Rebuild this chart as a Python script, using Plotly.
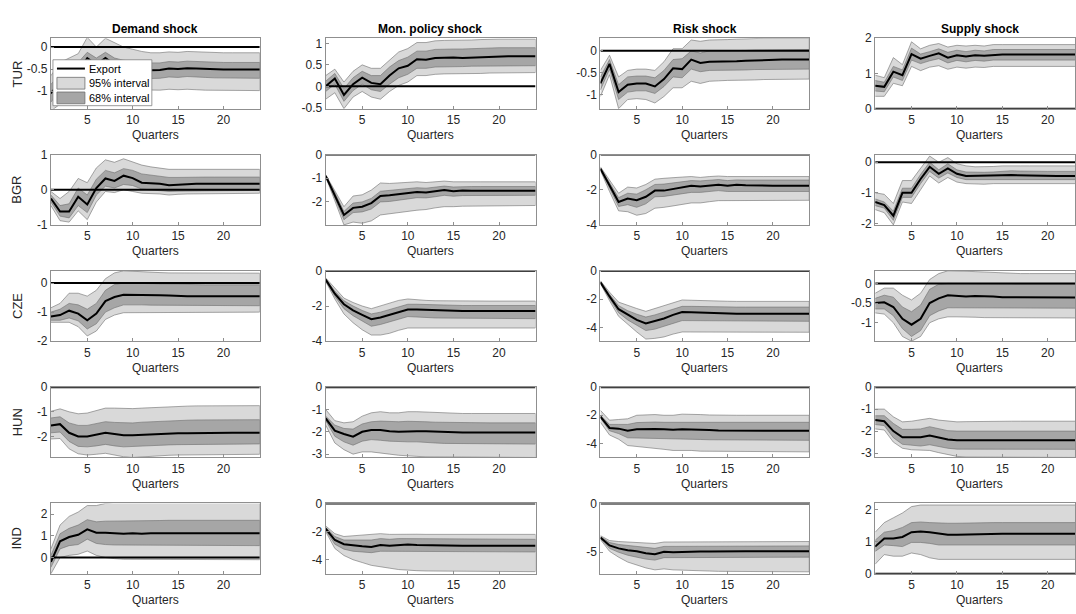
import plotly.graph_objects as go

# ---------------- data ----------------
QUARTERS = list(range(1, 25))
COUNTRIES = ["TUR", "BGR", "CZE", "HUN", "IND"]
SHOCKS = ["Demand shock", "Mon. policy shock", "Risk shock", "Supply shock"]
X_TICKS = [5, 10, 15, 20]

# TUR
TUR_DEM_MED = [-1.05,-0.80,-0.65,-0.55,-0.25,-0.40,-0.25,-0.40,-0.48,-0.50,-0.52,-0.53,-0.52,-0.49,-0.50,-0.48,-0.49,-0.50,-0.51,-0.51,-0.51,-0.51,-0.51,-0.51]
TUR_DEM_H68 = [-0.85,-0.60,-0.45,-0.35,-0.12,-0.25,-0.12,-0.25,-0.30,-0.33,-0.35,-0.36,-0.36,-0.33,-0.34,-0.32,-0.33,-0.34,-0.35,-0.35,-0.35,-0.35,-0.35,-0.35]
TUR_DEM_L68 = [-1.25,-1.00,-0.85,-0.75,-0.45,-0.60,-0.45,-0.60,-0.68,-0.70,-0.72,-0.72,-0.71,-0.68,-0.69,-0.67,-0.68,-0.69,-0.70,-0.70,-0.70,-0.70,-0.71,-0.71]
TUR_DEM_H95 = [-0.65,-0.35,-0.25,-0.15,0.22,0.00,0.20,0.10,0.00,-0.05,-0.10,-0.13,-0.13,-0.11,-0.12,-0.10,-0.11,-0.12,-0.13,-0.13,-0.13,-0.13,-0.13,-0.13]
TUR_DEM_L95 = [-1.45,-1.30,-1.15,-1.05,-0.80,-0.90,-0.80,-0.90,-0.95,-0.97,-0.98,-0.98,-0.98,-0.96,-0.97,-0.96,-0.97,-0.98,-0.99,-0.99,-0.99,-0.99,-0.99,-0.99]

TUR_MON_MED = [0.00,0.18,-0.20,0.05,0.20,0.08,0.05,0.25,0.42,0.48,0.63,0.62,0.66,0.67,0.67,0.66,0.67,0.68,0.69,0.70,0.70,0.70,0.70,0.70]
TUR_MON_H68 = [0.12,0.30,-0.05,0.20,0.35,0.25,0.25,0.45,0.60,0.68,0.82,0.82,0.86,0.87,0.87,0.87,0.88,0.88,0.89,0.90,0.90,0.90,0.90,0.90]
TUR_MON_L68 = [-0.12,0.05,-0.35,-0.10,0.05,-0.08,-0.12,0.05,0.20,0.28,0.42,0.42,0.45,0.46,0.46,0.46,0.47,0.47,0.48,0.48,0.48,0.48,0.48,0.48]
TUR_MON_H95 = [0.25,0.40,0.10,0.35,0.50,0.42,0.42,0.62,0.80,0.88,1.02,1.02,1.06,1.07,1.07,1.07,1.08,1.09,1.10,1.10,1.10,1.10,1.10,1.10]
TUR_MON_L95 = [-0.30,-0.15,-0.52,-0.25,-0.12,-0.25,-0.30,-0.12,0.02,0.10,0.25,0.25,0.28,0.29,0.29,0.29,0.30,0.30,0.31,0.32,0.32,0.32,0.32,0.32]

TUR_RISK_MED = [-0.75,-0.30,-0.95,-0.78,-0.75,-0.75,-0.82,-0.65,-0.40,-0.42,-0.20,-0.28,-0.25,-0.25,-0.25,-0.24,-0.23,-0.22,-0.21,-0.20,-0.20,-0.20,-0.20,-0.20]
TUR_RISK_H68 = [-0.60,-0.20,-0.78,-0.60,-0.58,-0.58,-0.62,-0.45,-0.20,-0.18,0.00,-0.05,0.00,0.00,0.00,0.01,0.01,0.02,0.02,0.03,0.03,0.03,0.03,0.03]
TUR_RISK_L68 = [-0.90,-0.42,-1.12,-0.95,-0.92,-0.92,-0.98,-0.82,-0.60,-0.62,-0.42,-0.48,-0.45,-0.45,-0.45,-0.44,-0.44,-0.43,-0.43,-0.42,-0.42,-0.42,-0.42,-0.42]
TUR_RISK_H95 = [-0.45,-0.10,-0.60,-0.45,-0.42,-0.42,-0.45,-0.25,0.05,0.05,0.25,0.22,0.25,0.25,0.26,0.27,0.28,0.28,0.29,0.29,0.29,0.29,0.29,0.29]
TUR_RISK_L95 = [-1.05,-0.55,-1.33,-1.12,-1.10,-1.12,-1.20,-1.05,-0.85,-0.85,-0.70,-0.75,-0.70,-0.69,-0.68,-0.68,-0.67,-0.67,-0.66,-0.66,-0.65,-0.65,-0.65,-0.65]

TUR_SUP_MED = [0.65,0.62,1.05,0.95,1.55,1.42,1.50,1.57,1.45,1.52,1.48,1.52,1.50,1.53,1.54,1.54,1.54,1.54,1.54,1.54,1.54,1.54,1.54,1.54]
TUR_SUP_H68 = [0.80,0.75,1.20,1.10,1.72,1.55,1.62,1.70,1.60,1.66,1.62,1.66,1.64,1.68,1.68,1.68,1.68,1.68,1.68,1.68,1.68,1.68,1.68,1.68]
TUR_SUP_L68 = [0.50,0.48,0.90,0.80,1.38,1.28,1.36,1.42,1.30,1.37,1.33,1.37,1.35,1.38,1.38,1.38,1.38,1.38,1.38,1.38,1.38,1.38,1.38,1.38]
TUR_SUP_H95 = [0.95,0.88,1.45,1.25,1.90,1.70,1.80,1.85,1.75,1.80,1.78,1.80,1.78,1.82,1.82,1.82,1.82,1.82,1.82,1.82,1.82,1.82,1.82,1.82]
TUR_SUP_L95 = [0.35,0.35,0.72,0.65,1.20,1.08,1.18,1.22,1.12,1.18,1.15,1.18,1.17,1.20,1.20,1.20,1.20,1.20,1.20,1.20,1.20,1.20,1.20,1.20]

# BGR
BGR_DEM_MED = [-0.25,-0.62,-0.62,-0.20,-0.42,0.05,0.32,0.25,0.40,0.33,0.20,0.19,0.17,0.13,0.15,0.16,0.17,0.17,0.16,0.17,0.17,0.17,0.17,0.17]
BGR_DEM_H68 = [-0.15,-0.45,-0.40,0.05,-0.15,0.30,0.55,0.48,0.60,0.55,0.45,0.42,0.40,0.35,0.35,0.36,0.36,0.36,0.36,0.36,0.36,0.36,0.36,0.36]
BGR_DEM_L68 = [-0.35,-0.75,-0.80,-0.45,-0.65,-0.15,0.10,0.05,0.15,0.12,0.02,0.00,-0.02,-0.05,-0.04,-0.03,-0.02,-0.02,-0.02,-0.02,-0.02,-0.02,-0.02,-0.02]
BGR_DEM_H95 = [-0.05,-0.25,-0.05,0.32,0.20,0.62,0.85,0.78,0.88,0.80,0.70,0.65,0.62,0.58,0.58,0.58,0.58,0.58,0.58,0.58,0.58,0.58,0.58,0.58]
BGR_DEM_L95 = [-0.45,-0.88,-0.92,-0.60,-0.85,-0.35,-0.05,-0.08,0.00,-0.05,-0.10,-0.12,-0.12,-0.15,-0.13,-0.12,-0.11,-0.10,-0.10,-0.10,-0.10,-0.10,-0.10,-0.10]

BGR_MON_MED = [-0.90,-1.75,-2.55,-2.25,-2.20,-2.05,-1.75,-1.72,-1.68,-1.65,-1.58,-1.60,-1.55,-1.50,-1.55,-1.52,-1.53,-1.53,-1.53,-1.53,-1.53,-1.53,-1.53,-1.53]
BGR_MON_H68 = [-0.88,-1.60,-2.40,-2.05,-2.00,-1.85,-1.55,-1.52,-1.48,-1.45,-1.40,-1.42,-1.38,-1.33,-1.37,-1.35,-1.35,-1.35,-1.35,-1.35,-1.35,-1.35,-1.35,-1.35]
BGR_MON_L68 = [-0.92,-1.85,-2.75,-2.45,-2.42,-2.30,-2.00,-1.98,-1.92,-1.88,-1.82,-1.83,-1.78,-1.72,-1.76,-1.73,-1.72,-1.72,-1.72,-1.72,-1.72,-1.72,-1.72,-1.72]
BGR_MON_H95 = [-0.85,-1.50,-2.20,-1.75,-1.70,-1.50,-1.20,-1.22,-1.20,-1.20,-1.15,-1.18,-1.15,-1.12,-1.15,-1.14,-1.15,-1.15,-1.15,-1.15,-1.15,-1.15,-1.15,-1.15]
BGR_MON_L95 = [-0.95,-1.95,-2.97,-2.85,-2.90,-2.80,-2.55,-2.50,-2.45,-2.40,-2.35,-2.32,-2.25,-2.20,-2.20,-2.18,-2.17,-2.16,-2.15,-2.15,-2.15,-2.15,-2.15,-2.15]

BGR_RISK_MED = [-0.80,-1.75,-2.70,-2.50,-2.60,-2.40,-2.05,-2.05,-1.95,-1.85,-1.78,-1.82,-1.75,-1.72,-1.78,-1.72,-1.75,-1.77,-1.77,-1.77,-1.77,-1.77,-1.77,-1.77]
BGR_RISK_H68 = [-0.75,-1.60,-2.45,-2.20,-2.25,-2.00,-1.70,-1.68,-1.60,-1.52,-1.48,-1.50,-1.45,-1.42,-1.48,-1.44,-1.45,-1.45,-1.45,-1.45,-1.45,-1.45,-1.45,-1.45]
BGR_RISK_L68 = [-0.85,-1.90,-2.95,-2.85,-3.00,-2.80,-2.40,-2.38,-2.30,-2.22,-2.15,-2.15,-2.10,-2.05,-2.10,-2.08,-2.10,-2.10,-2.10,-2.10,-2.10,-2.10,-2.10,-2.10]
BGR_RISK_H95 = [-0.70,-1.45,-2.20,-1.85,-1.90,-1.70,-1.40,-1.35,-1.30,-1.28,-1.25,-1.30,-1.25,-1.22,-1.25,-1.24,-1.25,-1.25,-1.25,-1.25,-1.25,-1.25,-1.25,-1.25]
BGR_RISK_L95 = [-0.90,-2.10,-3.20,-3.25,-3.45,-3.35,-3.05,-3.00,-2.92,-2.85,-2.75,-2.75,-2.68,-2.62,-2.62,-2.61,-2.60,-2.60,-2.60,-2.60,-2.60,-2.60,-2.60,-2.60]

BGR_SUP_MED = [-1.30,-1.40,-1.75,-1.00,-1.00,-0.55,-0.15,-0.38,-0.20,-0.38,-0.45,-0.45,-0.45,-0.45,-0.43,-0.42,-0.43,-0.44,-0.45,-0.45,-0.45,-0.45,-0.45,-0.45]
BGR_SUP_H68 = [-1.20,-1.30,-1.60,-0.85,-0.85,-0.40,0.00,-0.25,-0.05,-0.25,-0.32,-0.33,-0.33,-0.32,-0.30,-0.28,-0.29,-0.30,-0.30,-0.30,-0.30,-0.30,-0.30,-0.30]
BGR_SUP_L68 = [-1.42,-1.50,-1.90,-1.15,-1.15,-0.70,-0.30,-0.52,-0.35,-0.50,-0.57,-0.57,-0.57,-0.56,-0.55,-0.55,-0.56,-0.57,-0.57,-0.57,-0.57,-0.57,-0.57,-0.57]
BGR_SUP_H95 = [-1.00,-1.05,-1.35,-0.60,-0.60,-0.20,0.20,0.00,0.15,-0.05,-0.12,-0.15,-0.15,-0.14,-0.12,-0.11,-0.12,-0.12,-0.12,-0.12,-0.12,-0.12,-0.12,-0.12]
BGR_SUP_L95 = [-1.55,-1.65,-2.05,-1.30,-1.35,-0.90,-0.45,-0.68,-0.50,-0.65,-0.70,-0.72,-0.72,-0.70,-0.68,-0.68,-0.69,-0.70,-0.70,-0.70,-0.70,-0.70,-0.70,-0.70]

# CZE
CZE_DEM_MED = [-1.15,-1.10,-0.95,-1.05,-1.28,-1.05,-0.62,-0.48,-0.40,-0.40,-0.42,-0.42,-0.42,-0.43,-0.45,-0.45,-0.45,-0.45,-0.45,-0.45,-0.45,-0.45,-0.45,-0.45]
CZE_DEM_H68 = [-1.00,-0.90,-0.70,-0.75,-0.90,-0.70,-0.25,-0.05,0.00,0.00,-0.02,-0.02,-0.03,-0.04,-0.05,-0.05,-0.06,-0.06,-0.06,-0.06,-0.06,-0.06,-0.06,-0.06]
CZE_DEM_L68 = [-1.28,-1.28,-1.20,-1.30,-1.58,-1.40,-1.00,-0.85,-0.75,-0.75,-0.75,-0.76,-0.77,-0.78,-0.78,-0.78,-0.78,-0.78,-0.78,-0.78,-0.78,-0.78,-0.78,-0.78]
CZE_DEM_H95 = [-0.85,-0.70,-0.35,-0.35,-0.45,-0.25,0.15,0.35,0.42,0.40,0.40,0.38,0.36,0.35,0.35,0.35,0.34,0.34,0.34,0.34,0.34,0.34,0.34,0.34]
CZE_DEM_L95 = [-1.35,-1.35,-1.35,-1.50,-1.82,-1.65,-1.25,-1.10,-1.02,-1.00,-1.00,-1.00,-1.00,-1.00,-1.00,-1.00,-1.00,-1.00,-1.00,-1.00,-1.00,-1.00,-1.00,-1.00]

CZE_MON_MED = [-0.50,-1.30,-1.90,-2.25,-2.50,-2.75,-2.65,-2.50,-2.35,-2.20,-2.20,-2.22,-2.25,-2.27,-2.28,-2.28,-2.28,-2.28,-2.28,-2.28,-2.28,-2.28,-2.28,-2.28]
CZE_MON_H68 = [-0.45,-1.15,-1.70,-2.00,-2.25,-2.45,-2.35,-2.20,-2.05,-1.90,-1.90,-1.92,-1.95,-1.96,-1.97,-1.97,-1.97,-1.97,-1.97,-1.97,-1.97,-1.97,-1.97,-1.97]
CZE_MON_L68 = [-0.55,-1.45,-2.15,-2.55,-2.85,-3.15,-3.05,-2.90,-2.75,-2.60,-2.62,-2.65,-2.68,-2.70,-2.71,-2.72,-2.72,-2.72,-2.72,-2.72,-2.72,-2.72,-2.72,-2.72]
CZE_MON_H95 = [-0.40,-1.00,-1.55,-1.80,-2.00,-2.15,-2.00,-1.85,-1.68,-1.60,-1.65,-1.68,-1.70,-1.71,-1.72,-1.72,-1.72,-1.72,-1.72,-1.72,-1.72,-1.72,-1.72,-1.72]
CZE_MON_L95 = [-0.60,-1.60,-2.45,-2.95,-3.35,-3.65,-3.65,-3.55,-3.38,-3.25,-3.22,-3.22,-3.23,-3.24,-3.25,-3.25,-3.25,-3.25,-3.25,-3.25,-3.25,-3.25,-3.25,-3.25]

CZE_RISK_MED = [-0.80,-1.80,-2.70,-3.10,-3.45,-3.70,-3.55,-3.35,-3.10,-2.90,-2.92,-2.95,-2.97,-3.00,-3.01,-3.02,-3.02,-3.02,-3.02,-3.02,-3.02,-3.02,-3.02,-3.02]
CZE_RISK_H68 = [-0.75,-1.65,-2.45,-2.80,-3.05,-3.25,-3.10,-2.90,-2.70,-2.50,-2.50,-2.52,-2.53,-2.54,-2.55,-2.55,-2.55,-2.55,-2.55,-2.55,-2.55,-2.55,-2.55,-2.55]
CZE_RISK_L68 = [-0.85,-1.95,-2.95,-3.45,-3.85,-4.20,-4.10,-3.90,-3.70,-3.50,-3.50,-3.52,-3.53,-3.54,-3.55,-3.55,-3.55,-3.55,-3.55,-3.55,-3.55,-3.55,-3.55,-3.55]
CZE_RISK_H95 = [-0.70,-1.50,-2.20,-2.45,-2.65,-2.85,-2.65,-2.45,-2.20,-2.05,-2.07,-2.10,-2.12,-2.13,-2.14,-2.15,-2.15,-2.15,-2.15,-2.15,-2.15,-2.15,-2.15,-2.15]
CZE_RISK_L95 = [-0.90,-2.10,-3.20,-3.75,-4.30,-4.80,-4.75,-4.65,-4.45,-4.30,-4.30,-4.30,-4.31,-4.32,-4.32,-4.32,-4.32,-4.32,-4.32,-4.32,-4.32,-4.32,-4.32,-4.32]

CZE_SUP_MED = [-0.50,-0.48,-0.60,-0.90,-1.05,-0.90,-0.50,-0.38,-0.30,-0.32,-0.33,-0.32,-0.32,-0.33,-0.35,-0.35,-0.36,-0.36,-0.36,-0.36,-0.36,-0.36,-0.36,-0.36]
CZE_SUP_H68 = [-0.38,-0.30,-0.35,-0.60,-0.72,-0.55,-0.15,-0.02,0.00,0.00,0.00,0.00,0.00,0.00,-0.01,-0.01,-0.02,-0.02,-0.02,-0.02,-0.02,-0.02,-0.02,-0.02]
CZE_SUP_L68 = [-0.65,-0.65,-0.82,-1.15,-1.35,-1.20,-0.82,-0.70,-0.62,-0.62,-0.62,-0.62,-0.62,-0.63,-0.63,-0.63,-0.63,-0.63,-0.63,-0.63,-0.63,-0.63,-0.63,-0.63]
CZE_SUP_H95 = [-0.25,-0.12,-0.12,-0.30,-0.42,-0.25,0.10,0.25,0.32,0.32,0.31,0.30,0.29,0.27,0.26,0.25,0.25,0.25,0.25,0.25,0.25,0.25,0.25,0.25]
CZE_SUP_L95 = [-0.75,-0.78,-1.00,-1.35,-1.47,-1.35,-1.00,-0.90,-0.85,-0.85,-0.85,-0.86,-0.87,-0.88,-0.88,-0.88,-0.88,-0.88,-0.88,-0.88,-0.88,-0.88,-0.88,-0.88]

# HUN
HUN_DEM_MED = [-1.55,-1.50,-1.85,-2.00,-2.00,-1.92,-1.85,-1.90,-1.95,-1.95,-1.93,-1.92,-1.90,-1.88,-1.87,-1.87,-1.86,-1.86,-1.86,-1.85,-1.85,-1.85,-1.85,-1.85]
HUN_DEM_H68 = [-1.25,-1.20,-1.45,-1.55,-1.55,-1.48,-1.40,-1.43,-1.45,-1.45,-1.42,-1.40,-1.38,-1.35,-1.34,-1.34,-1.33,-1.33,-1.33,-1.32,-1.32,-1.32,-1.32,-1.32]
HUN_DEM_L68 = [-1.85,-1.82,-2.20,-2.40,-2.42,-2.38,-2.32,-2.38,-2.42,-2.42,-2.40,-2.38,-2.36,-2.34,-2.33,-2.32,-2.32,-2.31,-2.31,-2.30,-2.30,-2.30,-2.30,-2.30]
HUN_DEM_H95 = [-0.98,-0.88,-1.00,-1.08,-1.05,-0.95,-0.85,-0.85,-0.87,-0.87,-0.85,-0.83,-0.80,-0.78,-0.77,-0.77,-0.76,-0.76,-0.76,-0.75,-0.75,-0.75,-0.75,-0.75]
HUN_DEM_L95 = [-2.10,-2.08,-2.50,-2.70,-2.75,-2.72,-2.68,-2.75,-2.82,-2.85,-2.83,-2.80,-2.78,-2.76,-2.75,-2.74,-2.74,-2.73,-2.73,-2.72,-2.72,-2.72,-2.72,-2.72]

HUN_MON_MED = [-1.40,-1.95,-2.10,-2.22,-2.00,-1.92,-1.92,-1.98,-2.00,-1.97,-1.97,-1.98,-2.00,-2.02,-2.03,-2.03,-2.03,-2.03,-2.03,-2.03,-2.03,-2.03,-2.03,-2.03]
HUN_MON_H68 = [-1.30,-1.70,-1.85,-1.88,-1.65,-1.55,-1.52,-1.55,-1.55,-1.53,-1.53,-1.55,-1.57,-1.58,-1.59,-1.60,-1.60,-1.60,-1.60,-1.60,-1.60,-1.60,-1.60,-1.60]
HUN_MON_L68 = [-1.50,-2.20,-2.45,-2.60,-2.42,-2.35,-2.38,-2.42,-2.45,-2.45,-2.45,-2.47,-2.50,-2.52,-2.53,-2.54,-2.55,-2.55,-2.55,-2.55,-2.55,-2.55,-2.55,-2.55]
HUN_MON_H95 = [-1.00,-1.50,-1.60,-1.55,-1.30,-1.15,-1.10,-1.15,-1.15,-1.10,-1.10,-1.12,-1.14,-1.16,-1.17,-1.18,-1.18,-1.18,-1.18,-1.18,-1.18,-1.18,-1.18,-1.18]
HUN_MON_L95 = [-1.70,-2.50,-2.80,-3.00,-2.90,-2.90,-2.95,-3.00,-3.05,-3.08,-3.10,-3.12,-3.14,-3.15,-3.15,-3.15,-3.15,-3.15,-3.15,-3.15,-3.15,-3.15,-3.15,-3.15]

HUN_RISK_MED = [-2.10,-2.90,-2.95,-3.10,-3.00,-2.98,-2.98,-3.00,-3.03,-3.00,-3.00,-3.03,-3.05,-3.08,-3.09,-3.10,-3.10,-3.10,-3.10,-3.10,-3.10,-3.10,-3.10,-3.10]
HUN_RISK_H68 = [-2.00,-2.65,-2.65,-2.65,-2.52,-2.48,-2.48,-2.50,-2.50,-2.45,-2.45,-2.48,-2.49,-2.50,-2.50,-2.50,-2.50,-2.50,-2.50,-2.50,-2.50,-2.50,-2.50,-2.50]
HUN_RISK_L68 = [-2.20,-3.10,-3.30,-3.60,-3.60,-3.62,-3.63,-3.65,-3.68,-3.68,-3.70,-3.72,-3.74,-3.76,-3.77,-3.78,-3.78,-3.78,-3.78,-3.78,-3.78,-3.78,-3.78,-3.78]
HUN_RISK_H95 = [-1.65,-2.35,-2.30,-2.25,-2.00,-1.95,-1.95,-2.00,-2.00,-1.92,-1.92,-1.95,-1.98,-2.00,-2.00,-2.00,-2.00,-2.00,-2.00,-2.00,-2.00,-2.00,-2.00,-2.00]
HUN_RISK_L95 = [-2.50,-3.40,-3.70,-4.15,-4.25,-4.30,-4.35,-4.42,-4.50,-4.48,-4.50,-4.55,-4.57,-4.58,-4.59,-4.60,-4.60,-4.60,-4.60,-4.60,-4.60,-4.60,-4.60,-4.60]

HUN_SUP_MED = [-1.50,-1.55,-2.00,-2.28,-2.28,-2.28,-2.20,-2.30,-2.38,-2.42,-2.42,-2.42,-2.40,-2.40,-2.40,-2.41,-2.41,-2.42,-2.42,-2.42,-2.42,-2.42,-2.42,-2.42]
HUN_SUP_H68 = [-1.30,-1.30,-1.65,-1.92,-1.92,-1.90,-1.80,-1.90,-1.98,-2.00,-2.00,-2.00,-1.99,-1.99,-1.99,-2.00,-2.00,-2.00,-2.00,-2.00,-2.00,-2.00,-2.00,-2.00]
HUN_SUP_L68 = [-1.70,-1.75,-2.30,-2.60,-2.65,-2.68,-2.62,-2.70,-2.78,-2.82,-2.82,-2.82,-2.82,-2.82,-2.82,-2.83,-2.83,-2.83,-2.83,-2.83,-2.83,-2.83,-2.83,-2.83]
HUN_SUP_H95 = [-1.00,-1.00,-1.35,-1.58,-1.55,-1.50,-1.42,-1.50,-1.55,-1.58,-1.57,-1.56,-1.55,-1.55,-1.55,-1.55,-1.55,-1.55,-1.55,-1.55,-1.55,-1.55,-1.55,-1.55]
HUN_SUP_L95 = [-1.90,-1.95,-2.50,-2.78,-2.85,-2.88,-2.88,-2.98,-3.08,-3.15,-3.18,-3.20,-3.20,-3.20,-3.20,-3.20,-3.20,-3.20,-3.20,-3.20,-3.20,-3.20,-3.20,-3.20]

# IND
IND_DEM_MED = [-0.20,0.75,0.95,1.05,1.30,1.15,1.15,1.12,1.10,1.12,1.10,1.12,1.12,1.12,1.12,1.12,1.12,1.12,1.12,1.12,1.12,1.12,1.12,1.12]
IND_DEM_H68 = [0.10,1.10,1.35,1.50,1.75,1.65,1.68,1.68,1.68,1.70,1.70,1.71,1.71,1.72,1.72,1.72,1.72,1.72,1.72,1.72,1.72,1.72,1.72,1.72]
IND_DEM_L68 = [-0.45,0.40,0.55,0.60,0.85,0.65,0.60,0.58,0.56,0.56,0.55,0.55,0.55,0.55,0.55,0.55,0.55,0.55,0.55,0.55,0.55,0.55,0.55,0.55]
IND_DEM_H95 = [0.40,1.50,1.90,2.10,2.40,2.40,2.50,2.55,2.55,2.55,2.55,2.55,2.55,2.55,2.55,2.55,2.55,2.55,2.55,2.55,2.55,2.55,2.55,2.55]
IND_DEM_L95 = [-0.75,0.00,0.10,0.15,0.30,0.10,0.00,-0.05,-0.08,-0.08,-0.10,-0.10,-0.10,-0.10,-0.10,-0.10,-0.10,-0.10,-0.10,-0.10,-0.10,-0.10,-0.10,-0.10]

IND_MON_MED = [-1.80,-2.60,-2.90,-3.00,-3.05,-3.10,-2.95,-3.00,-2.95,-2.92,-2.95,-2.97,-2.98,-2.99,-3.00,-3.00,-3.00,-3.00,-3.00,-3.00,-3.00,-3.00,-3.00,-3.00]
IND_MON_H68 = [-1.70,-2.35,-2.60,-2.60,-2.60,-2.60,-2.50,-2.55,-2.50,-2.50,-2.52,-2.53,-2.54,-2.55,-2.55,-2.55,-2.55,-2.55,-2.55,-2.55,-2.55,-2.55,-2.55,-2.55]
IND_MON_L68 = [-1.90,-2.90,-3.25,-3.40,-3.45,-3.50,-3.40,-3.42,-3.42,-3.42,-3.43,-3.44,-3.45,-3.45,-3.45,-3.45,-3.45,-3.45,-3.45,-3.45,-3.45,-3.45,-3.45,-3.45]
IND_MON_H95 = [-1.60,-2.15,-2.35,-2.30,-2.25,-2.20,-2.15,-2.20,-2.18,-2.18,-2.19,-2.20,-2.20,-2.20,-2.20,-2.20,-2.20,-2.20,-2.20,-2.20,-2.20,-2.20,-2.20,-2.20]
IND_MON_L95 = [-2.00,-3.20,-3.70,-4.00,-4.20,-4.40,-4.50,-4.60,-4.70,-4.75,-4.78,-4.80,-4.82,-4.84,-4.85,-4.85,-4.85,-4.85,-4.85,-4.85,-4.85,-4.85,-4.85,-4.85]

IND_RISK_MED = [-3.50,-4.30,-4.60,-4.80,-4.90,-5.10,-5.20,-4.95,-5.00,-4.95,-4.90,-4.92,-4.92,-4.90,-4.90,-4.90,-4.90,-4.90,-4.90,-4.90,-4.90,-4.90,-4.90,-4.90]
IND_RISK_H68 = [-3.40,-4.00,-4.20,-4.30,-4.40,-4.50,-4.60,-4.40,-4.40,-4.35,-4.33,-4.35,-4.35,-4.35,-4.35,-4.35,-4.35,-4.35,-4.35,-4.35,-4.35,-4.35,-4.35,-4.35]
IND_RISK_L68 = [-3.60,-4.60,-5.00,-5.30,-5.50,-5.70,-5.80,-5.55,-5.55,-5.52,-5.50,-5.50,-5.50,-5.50,-5.50,-5.50,-5.50,-5.50,-5.50,-5.50,-5.50,-5.50,-5.50,-5.50]
IND_RISK_H95 = [-3.30,-3.80,-3.90,-3.95,-4.00,-4.00,-4.10,-3.95,-3.95,-3.90,-3.90,-3.90,-3.90,-3.90,-3.90,-3.90,-3.90,-3.90,-3.90,-3.90,-3.90,-3.90,-3.90,-3.90]
IND_RISK_L95 = [-3.70,-4.90,-5.50,-6.00,-6.30,-6.60,-6.80,-6.70,-6.80,-6.85,-6.88,-6.90,-6.92,-6.95,-6.96,-6.97,-6.98,-7.00,-7.00,-7.00,-7.00,-7.00,-7.00,-7.00]

IND_SUP_MED = [0.85,1.10,1.10,1.15,1.30,1.32,1.30,1.25,1.22,1.22,1.23,1.24,1.25,1.25,1.25,1.25,1.25,1.25,1.25,1.25,1.25,1.25,1.25,1.25]
IND_SUP_H68 = [1.05,1.30,1.35,1.45,1.60,1.62,1.60,1.58,1.58,1.58,1.59,1.60,1.60,1.60,1.60,1.60,1.60,1.60,1.60,1.60,1.60,1.60,1.60,1.60]
IND_SUP_L68 = [0.70,0.90,0.88,0.85,0.98,0.98,0.95,0.90,0.88,0.88,0.89,0.90,0.90,0.90,0.90,0.90,0.90,0.90,0.90,0.90,0.90,0.90,0.90,0.90]
IND_SUP_H95 = [1.30,1.60,1.75,1.90,2.10,2.15,2.15,2.15,2.15,2.15,2.15,2.15,2.15,2.15,2.15,2.15,2.15,2.15,2.15,2.15,2.15,2.15,2.15,2.15]
IND_SUP_L95 = [0.30,0.60,0.55,0.55,0.65,0.60,0.50,0.45,0.45,0.45,0.45,0.45,0.45,0.45,0.45,0.45,0.45,0.45,0.45,0.45,0.45,0.45,0.45,0.45]

# y-axis ticks per panel (row by row)
Y_TICKS = [
    [[-1, -0.5, 0], [-0.5, 0, 0.5, 1], [-1, -0.5, 0], [0, 1, 2]],
    [[-1, 0, 1], [-2, -1, 0], [-4, -2, 0], [-2, -1, 0]],
    [[-2, -1, 0], [-4, -2, 0], [-4, -2, 0], [-1, -0.5, 0]],
    [[-2, -1, 0], [-3, -2, -1, 0], [-4, -2, 0], [-3, -2, -1, 0]],
    [[0, 1, 2], [-4, -2, 0], [-5, 0], [0, 1, 2]],
]

g = globals()
SHORT = ["DEM", "MON", "RISK", "SUP"]

# ---------------- layout geometry ----------------
W, H = 1076, 614
COL_PX = [(51, 260), (326, 536), (601, 810), (876, 1076)]
COL_XMAX = [24, 24, 24, 23.0]
ROW_TOP = [32, 151, 270, 389, 508]
ROW_H = 72
Y_RANGES = [
    [[-1.4, 0.2], [-0.52, 1.12], [-1.33, 0.29], [0, 2.0]],
    [[-1.0, 1.0], [-2.97, 0.0], [-4.0, 0.0], [-2.05, 0.25]],
    [[-2.0, 0.42], [-4.0, 0.0], [-4.95, 0.0], [-1.47, 0.32]],
    [[-2.85, 0.0], [-3.15, 0.0], [-5.0, 0.0], [-3.2, 0.0]],
    [[-0.75, 2.5], [-5.0, 0.0], [-7.2, 0.0], [0, 2.2]],
]

C95 = "#d9d9d9"
C68 = "#a6a6a6"
EDGE = "#6f6f6f"
AXC = "#8f8f8f"
FONT = "Liberation Sans, Arial, Helvetica, sans-serif"
TXT = "#262626"

def px_x(p):
    return p / W

def px_y(p):
    return 1 - p / H

fig = go.Figure()
layout = {}
annotations = []
shapes = []

idx = 0
for r, ctry in enumerate(COUNTRIES):
    for c, shock in enumerate(SHOCKS):
        idx += 1
        xa = "x" if idx == 1 else f"x{idx}"
        ya = "y" if idx == 1 else f"y{idx}"
        key = f"{ctry}_{SHORT[c]}"
        med = g[key + "_MED"]
        h68, l68 = g[key + "_H68"], g[key + "_L68"]
        h95, l95 = g[key + "_H95"], g[key + "_L95"]
        qx = QUARTERS + QUARTERS[::-1]
        fig.add_trace(go.Scatter(x=qx, y=h95 + l95[::-1], fill="toself", fillcolor=C95,
                                 mode="lines", line=dict(color=EDGE, width=0.6),
                                 xaxis=xa, yaxis=ya, showlegend=False, hoverinfo="skip"))
        fig.add_trace(go.Scatter(x=qx, y=h68 + l68[::-1], fill="toself", fillcolor=C68,
                                 mode="lines", line=dict(color=EDGE, width=0.6),
                                 xaxis=xa, yaxis=ya, showlegend=False, hoverinfo="skip"))
        fig.add_trace(go.Scatter(x=QUARTERS, y=[0] * len(QUARTERS), mode="lines",
                                 line=dict(color="black", width=2),
                                 xaxis=xa, yaxis=ya, showlegend=False, hoverinfo="skip"))
        fig.add_trace(go.Scatter(x=QUARTERS, y=med, mode="lines", name="Export",
                                 line=dict(color="black", width=2),
                                 xaxis=xa, yaxis=ya, showlegend=False))

        x0, x1 = COL_PX[c]
        top = ROW_TOP[r]
        bot = top + ROW_H
        axname_x = "xaxis" if idx == 1 else f"xaxis{idx}"
        axname_y = "yaxis" if idx == 1 else f"yaxis{idx}"
        common = dict(showline=True, mirror=True, linecolor=AXC, linewidth=1,
                      ticks="inside", ticklen=3, tickcolor=AXC, showgrid=False,
                      zeroline=False, tickfont=dict(family=FONT, size=12, color=TXT))
        layout[axname_x] = dict(domain=[px_x(x0), px_x(x1)], range=[1, COL_XMAX[c]],
                                anchor=ya, tickvals=X_TICKS, **common)
        yt = Y_TICKS[r][c]
        layout[axname_y] = dict(domain=[px_y(bot), px_y(top)], range=Y_RANGES[r][c],
                                anchor=xa, tickvals=yt, ticktext=[f"{v:g}" for v in yt],
                                **common)
        annotations.append(dict(x=px_x((COL_PX[c][0] + min(COL_PX[c][0] + 209, 1085)) / 2),
                                y=px_y(bot + 27), xref="paper", yref="paper",
                                text="Quarters", showarrow=False,
                                font=dict(family=FONT, size=12, color=TXT),
                                xanchor="center", yanchor="middle"))
        if r == 0:
            annotations.append(dict(x=px_x((COL_PX[c][0] + COL_PX[c][0] + 209) / 2),
                                    y=px_y(23), xref="paper", yref="paper",
                                    text=f"<b>{shock}</b>", showarrow=False,
                                    font=dict(family=FONT, size=12, color="black"),
                                    xanchor="center", yanchor="middle"))
        if c == 0:
            annotations.append(dict(x=px_x(17), y=px_y(top + ROW_H / 2), xref="paper",
                                    yref="paper", text=ctry, textangle=-90,
                                    showarrow=False,
                                    font=dict(family=FONT, size=13, color=TXT),
                                    xanchor="center", yanchor="middle"))

# ---------------- manual legend (first panel) ----------------
def rect(x0, y0, x1, y1, fill, line, lw=0.8):
    return dict(type="rect", xref="paper", yref="paper", layer="above",
                x0=px_x(x0), x1=px_x(x1), y0=px_y(y1), y1=px_y(y0),
                fillcolor=fill, line=dict(color=line, width=lw))

shapes.append(rect(53, 54, 152, 101, "white", "#7f7f7f"))
shapes.append(dict(type="line", xref="paper", yref="paper", layer="above",
                   x0=px_x(57), x1=px_x(85), y0=px_y(63), y1=px_y(63),
                   line=dict(color="black", width=2)))
shapes.append(rect(57, 72, 85, 84, C95, EDGE))
shapes.append(rect(57, 87, 85, 99, C68, EDGE))
for label, yc in [("Export", 63), ("95% interval", 78), ("68% interval", 93)]:
    annotations.append(dict(x=px_x(87), y=px_y(yc), xref="paper", yref="paper",
                            text=label, showarrow=False, xanchor="left",
                            yanchor="middle",
                            font=dict(family=FONT, size=11, color="black")))

fig.update_layout(width=W, height=H, margin=dict(l=0, r=0, t=0, b=0),
                  plot_bgcolor="white", paper_bgcolor="white",
                  annotations=annotations, shapes=shapes, showlegend=False,
                  **layout)

fig.write_html("out.html", config={"displayModeBar": False},
               post_script="document.body.style.margin='0';"
                           "document.body.style.overflow='hidden';")
